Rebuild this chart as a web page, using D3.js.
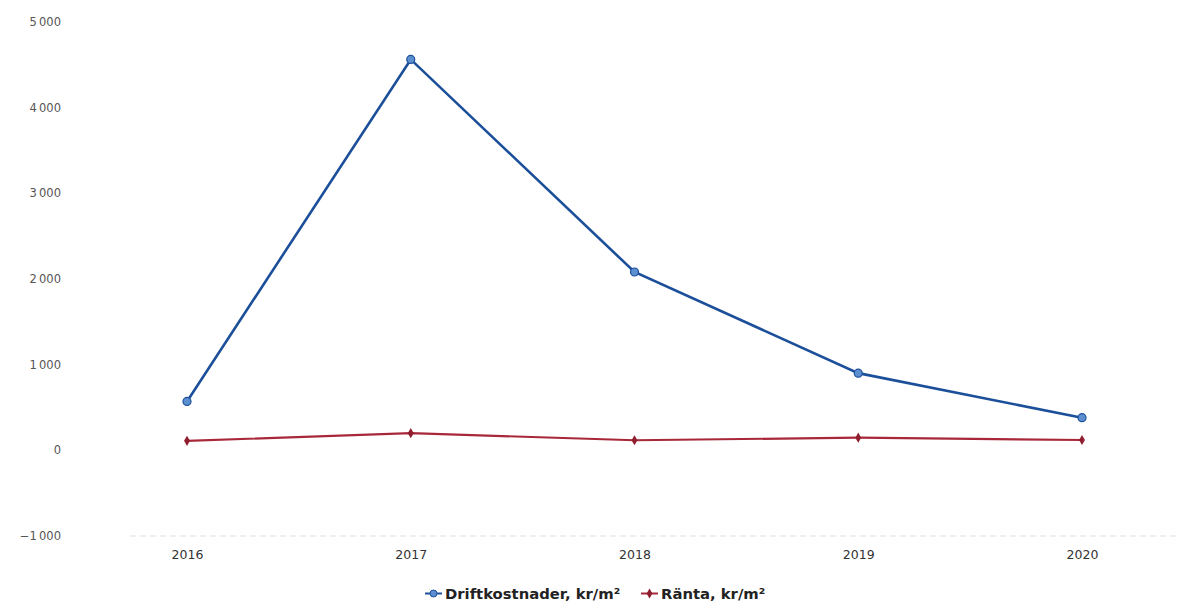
<!DOCTYPE html>
<html>
<head>
<meta charset="utf-8">
<script src="https://cdn.jsdelivr.net/npm/d3@7"></script>
<style>
  html, body { margin: 0; padding: 0; background: #fff; }
  svg { display: block; }
</style>
</head>
<body>
<svg id="chart" width="1188" height="605"></svg>
<script>
// Years on the x axis
const years = ["2016", "2017", "2018", "2019", "2020"];
// Operating costs per m²
const driftkostnader = [570, 4560, 2080, 900, 380];
// Interest per m²
const ranta = [110, 200, 117, 147, 120];
// Y axis ticks
const yTicks = [-1000, 0, 1000, 2000, 3000, 4000, 5000];
const seriesNames = ["Driftkostnader, kr/m²", "Ränta, kr/m²"];

const svg = d3.select("#chart");

const x = d3.scalePoint().domain(years).range([187, 1082]);
const y = d3.scaleLinear().domain([-1000, 5000]).range([536, 21.7]);

const fmt = v => d3.format(",")(v).replace(/,/g, "\u2009").replace("-", "\u2212");

// Y axis labels (no line, no grid)
const yAxis = d3.axisLeft(y).tickValues(yTicks).tickFormat(fmt).tickSize(0).tickPadding(0);
const gy = svg.append("g").attr("transform", "translate(61,0)").call(yAxis);
gy.select(".domain").remove();
gy.selectAll("text")
  .attr("font-family", "DejaVu Sans, sans-serif")
  .attr("font-size", 11.5)
  .attr("fill", "#555");

// Faint base line at the bottom of the plot
svg.append("line")
  .attr("x1", 130).attr("x2", 1180)
  .attr("y1", y(-1000)).attr("y2", y(-1000))
  .attr("stroke", "#e6ebf1").attr("stroke-width", 1.5)
  .attr("stroke-dasharray", "6 4");

// X axis labels
const xAxis = d3.axisBottom(x).tickSize(0).tickPadding(0);
const gx = svg.append("g").attr("transform", `translate(0,${y(-1000) + 14})`).call(xAxis);
gx.select(".domain").remove();
gx.selectAll("text")
  .attr("font-family", "DejaVu Sans, sans-serif")
  .attr("font-size", 12.5)
  .attr("fill", "#333");

const line = d3.line().x((d, i) => x(years[i])).y(d => y(d));

// Driftkostnader series
svg.append("path")
  .datum(driftkostnader)
  .attr("d", line)
  .attr("fill", "none")
  .attr("stroke", "#1c4f9a")
  .attr("stroke-width", 2.6);
svg.selectAll("circle.drift")
  .data(driftkostnader)
  .join("circle")
  .attr("class", "drift")
  .attr("cx", (d, i) => x(years[i]))
  .attr("cy", d => y(d))
  .attr("r", 4)
  .attr("fill", "#5b8fd0")
  .attr("stroke", "#1c4f9a")
  .attr("stroke-width", 1.2);

// Ränta series
svg.append("path")
  .datum(ranta)
  .attr("d", line)
  .attr("fill", "none")
  .attr("stroke", "#a8283a")
  .attr("stroke-width", 2.2);
const diamond = d3.symbol().type(d3.symbolDiamond).size(30);
svg.selectAll("path.ranta")
  .data(ranta)
  .join("path")
  .attr("class", "ranta")
  .attr("d", diamond)
  .attr("transform", (d, i) => `translate(${x(years[i])},${y(d)})`)
  .attr("fill", "#8f1f2e");

// Legend
const legend = svg.append("g").attr("transform", "translate(0,599)");
const items = [
  { name: seriesNames[0], x0: 425, color: "#1c4f9a", fill: "#5b8fd0", kind: "circle" },
  { name: seriesNames[1], x0: 641, color: "#a8283a", fill: "#8f1f2e", kind: "diamond" }
];
items.forEach(it => {
  const g = legend.append("g").attr("transform", `translate(${it.x0},0)`);
  g.append("line").attr("x1", 0).attr("x2", 17).attr("y1", -5.5).attr("y2", -5.5)
    .attr("stroke", it.color).attr("stroke-width", 2);
  if (it.kind === "circle") {
    g.append("circle").attr("cx", 8.5).attr("cy", -5.5).attr("r", 3.5)
      .attr("fill", it.fill).attr("stroke", it.color).attr("stroke-width", 1);
  } else {
    g.append("path").attr("d", d3.symbol().type(d3.symbolDiamond).size(28))
      .attr("transform", "translate(8.5,-5.5)").attr("fill", it.fill);
  }
  g.append("text").attr("x", 20).attr("y", 0)
    .attr("font-family", "DejaVu Sans, sans-serif")
    .attr("font-size", 14.8)
    .attr("font-weight", "bold")
    .attr("fill", "#222")
    .text(it.name);
});
</script>
</body>
</html>
